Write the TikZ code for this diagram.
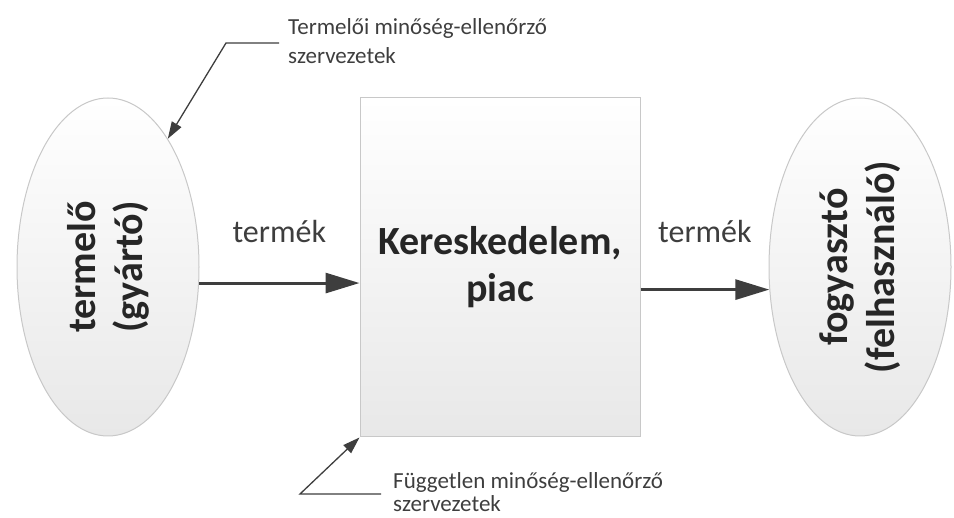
\documentclass[tikz,border=0pt]{standalone}
\usepackage{fontspec}
\setmainfont{Carlito}
\usetikzlibrary{arrows.meta, positioning, shapes.geometric}
\definecolor{inkgray}{RGB}{38,38,38}
\definecolor{linegray}{RGB}{62,62,62}
\definecolor{rimgray}{RGB}{200,200,200}
\definecolor{fillgray}{RGB}{232,232,232}

\tikzset{
  blob/.style={ellipse, draw=rimgray, line width=1pt, top color=white, bottom color=fillgray, minimum width=182pt, minimum height=338pt, inner sep=0pt},
  market/.style={rectangle, draw=rimgray, line width=1pt, top color=white, bottom color=fillgray, minimum width=280pt, minimum height=339pt, inner sep=0pt},
  bigtxt/.style={font=\fontsize{40}{47}\selectfont\bfseries, text=inkgray, align=center, inner sep=0pt},
  flowtxt/.style={font=\fontsize{32}{38}\selectfont, text=linegray, inner sep=0pt},
  notetxt/.style={font=\fontsize{23}{#1}\selectfont, text=linegray, align=left, inner sep=0pt, anchor=base west},
  flow/.style={line width=3pt, draw=linegray, -{Triangle[length=34pt,width=20pt]}},
  lead/.style={line width=1.3pt, draw=linegray, -{Triangle[length=17pt,width=11pt]}}
}

\begin{document}
\begin{tikzpicture}[x=1pt,y=-1pt]
\useasboundingbox (0,0) rectangle (954,518);

% ellipses and box
\node[blob] (prod) at (108,267) {};
\node[market] (mkt) at (500,267.5) {};
\node[blob] (cons) at (860,267) {};

\node[bigtxt, rotate=90] (prodtxt) at (prod) {termelő\\(gyártó)};
\node[bigtxt] (mkttxt) at (mkt) {Kereskedelem,\\piac};
\node[bigtxt, rotate=90] (constxt) at (cons) {fogyasztó\\(felhasználó)};

% product flow
\draw[flow] (prod.-10) -- (prod.-10 -| mkt.west) node[midway, above=39pt, flowtxt] (flowin) {termék};
\draw[flow] (mkt.east |- cons.194) -- (cons.194) node[midway, above=45pt, flowtxt] (flowout) {termék};

% quality control notes (anchored at the last line)
\node[notetxt=29] (topnote) at (288,64) {Termelői minőség-ellenőrző\\szervezetek};
\node[notetxt=24] (botnote) at (393,512) {Független minőség-ellenőrző\\szervezetek};

\coordinate (topend) at (279,43);
\coordinate (topknee) at (226,43);
\draw[lead] (topend) -- (topknee) -- (prod.65);

\coordinate (botend) at (381,494);
\coordinate (botknee) at (300,494);
\draw[lead] (botend) -- (botknee) -- (mkt.south west);

\end{tikzpicture}
\end{document}
